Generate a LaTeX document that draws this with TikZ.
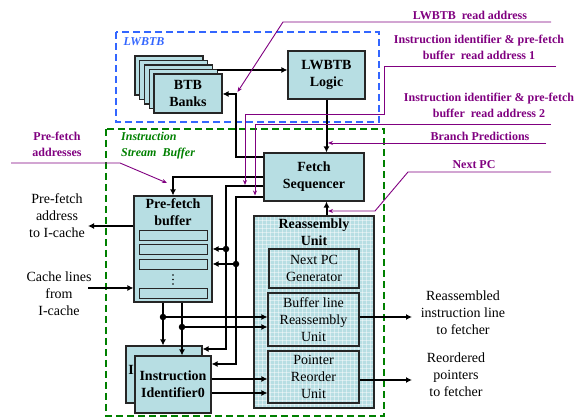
\documentclass[tikz,border=0pt]{standalone}
\usepackage{fontspec}
\setmainfont{Liberation Serif}
\usetikzlibrary{arrows.meta}

\definecolor{boxcyan}{RGB}{183,222,227}
\definecolor{tagpurple}{RGB}{128,0,128}
\definecolor{lwblue}{RGB}{51,102,255}
\definecolor{isbgreen}{RGB}{0,128,0}

\tikzset{
  blk/.style={draw=black!85, line width=1.1pt, fill=boxcyan, inner sep=0pt, align=center},
  sub/.style={draw=black!85, line width=1.1pt, inner sep=0pt, align=center},
  slot/.style={draw=black!85, line width=0.9pt, fill=boxcyan},
  busline/.style={line width=2pt},
  bus/.style={line width=2pt, -{Latex[length=6pt,width=6pt]}},
  tag/.style={draw=tagpurple, line width=0.9pt, -{Stealth[length=5pt,width=4pt]}},
  joint/.style={circle, fill=black, inner sep=0pt, minimum size=6.5pt},
  tagtext/.style={text=tagpurple, font=\fontsize{12}{16}\selectfont\bfseries, align=center},
  plain/.style={font=\fontsize{14}{17}\selectfont, align=center},
  boxfont/.style={font=\fontsize{14}{17}\selectfont\bfseries}
}

\begin{document}
\begin{tikzpicture}[x=1pt,y=-1pt]
\useasboundingbox (0,0) rectangle (579,419);

%Dashed frames
\draw[lwblue, line width=1.5pt, dash pattern={on 7pt off 4pt}] (116,32) rectangle (379,122);
\draw[isbgreen, line width=1.5pt, dash pattern={on 7pt off 4pt}] (106,129) rectangle (384,416);
\node[anchor=west, text=lwblue, font=\fontsize{12}{16}\selectfont\bfseries\itshape] (lwtitle) at (120,42) {LWBTB};
\node[anchor=north west, text=isbgreen, font=\fontsize{12}{16}\selectfont\bfseries\itshape, align=left, inner sep=0pt] (isbtitle) at (121,132) {Instruction\\Stream\ \ Buffer};

%BTB banks (stacked)
\foreach \k in {4,3,2,1}
  \draw[slot, line width=1.1pt] ({154-4.75*\k},{74-4.5*\k}) rectangle +(68,39);
\node[blk, boxfont, minimum width=68, minimum height=39] (btb) at (188,93.5) {BTB\\Banks};
\coordinate (btbtap) at (217,70);

%LWBTB logic and fetch sequencer
\node[blk, boxfont, minimum width=77, minimum height=48] (logic) at (326.5,75) {LWBTB\\Logic};
\node[blk, boxfont, minimum width=100, minimum height=48] (fetch) at (314,177) {Fetch\\Sequencer};

%Pre-fetch buffer
\node[blk, minimum width=78, minimum height=106] (pfb) at (173,249) {};
\node[boxfont, align=center, anchor=north, inner sep=0pt] (pfbtext) at (pfb.north) {\rule{0pt}{13pt}Pre-fetch\\buffer};
\foreach \y in {230,244.5,259,288}
  \draw[slot] (139,\y) rectangle +(68,10);
\foreach \y in {275,279.5,284}
  \fill (173,\y) circle (0.8);

%Instruction identifiers
\node[blk, minimum width=76, minimum height=57] (idback) at (164,374.5) {};
\node[boxfont] (idbtext) at (131,370) {I};
\node[blk, boxfont, minimum width=76, minimum height=57] (idfront) at (173,384.5) {Instruction\\Identifier0};

%Reassembly unit with its parts
\node[blk, minimum width=120, minimum height=192] (reasm) at (314,312) {};
\foreach \x in {258,262,...,370}
  \draw[white, line width=0.3pt, opacity=0.45] (\x,216.6) -- (\x,407.4);
\foreach \y in {220,224,...,404}
  \draw[white, line width=0.3pt, opacity=0.45] (254.6,\y) -- (373.4,\y);
\draw[black!85, line width=1.1pt] (reasm.south west) rectangle (reasm.north east);
\node[boxfont, align=center, anchor=north, inner sep=0pt] (reasmtext) at (reasm.north) {\rule{0pt}{13pt}Reassembly\\Unit};
\node[sub, plain, minimum width=90, minimum height=39] (npc) at (314,268.5) {Next PC\\Generator};
\node[sub, plain, minimum width=91, minimum height=53] (blr) at (313.5,319.5) {Buffer line\\Reassembly\\Unit};
\node[sub, plain, minimum width=91, minimum height=52] (pru) at (313.5,377) {Pointer\\Reorder\\Unit};

%Black buses
\draw[bus] (btbtap) -- (logic.west |- btbtap);
\draw[bus] (fetch.west |- 0,157) -| (236,94) -- (btb.east |- 0,94);
\draw[bus] (logic.south) -- (logic.south |- fetch.north);
\draw[bus] (fetch.west |- 0,177) -| (pfb.north);
\draw[bus] (fetch.west |- 0,186) -| (226,349) -- (idback.east |- 0,349);
\draw[bus] (fetch.west |- 0,197) -| (236,364) -- (idfront.east |- 0,364);
\node[joint] (ja) at (226,249) {};
\node[joint] (jb) at (236,264) {};
\draw[bus] (ja) -- (pfb.east |- ja);
\draw[bus] (jb) -- (pfb.east |- jb);
\draw[bus] (pfb.south -| 163,0) -- (idback.north -| 163,0);
\draw[bus] (pfb.south -| 182,0) -- (idfront.north -| 182,0);
\node[joint] (jc) at (163,317) {};
\node[joint] (jd) at (182,327) {};
\draw[bus] (jc) -- (blr.west |- jc);
\draw[bus] (jd) -- (blr.west |- jd);
\draw[bus] (idfront.east |- 0,379) -- (pru.west |- 0,379);
\draw[bus] (idfront.east |- 0,393) -- (pru.west |- 0,393);
\draw[bus] (reasm.north -| logic.south) -- (fetch.south -| logic.south);

%Inputs and outputs
\coordinate (pfout) at (88,226);
\coordinate (clin) at (88,288);
\coordinate (lineout) at (412,317);
\coordinate (ptrout) at (412,380);
\draw[bus] (pfb.west |- pfout) -- (pfout);
\draw[bus] (clin) -- (pfb.west |- clin);
\draw[bus] (blr.east |- lineout) -- (lineout);
\draw[bus] (pru.east |- ptrout) -- (ptrout);

% Text Node
\node[plain] (pfouttext) at (57,216) {Pre-fetch\\address\\to I-cache};
\node[plain] (clintext) at (59,294) {Cache lines\\from\\I-cache};
\node[plain] (lineouttext) at (463,313) {Reassembled\\instruction line\\to fetcher};
\node[plain] (ptrouttext) at (456,375) {Reordered\\pointers\\to fetcher};

%Purple tags
\draw[tag] (551,22) -- (283,22) -- (237.5,92);
\draw[tag] (556,66) -- (384,66) -- (384,114) -- (245,114) -- (245,185);
\draw[tag] (551,124) -- (255,124) -- (255,195.5);
\draw[tag] (546,143) -- (328,143);
\draw[tag] (551,172) -- (408,172) -- (375,211) -- (328,211);
\draw[tag] (11,163) -- (120,163) -- (167,183);

% Text Node
\node[tagtext] (t1) at (470,15) {LWBTB\ \ read address};
\node[tagtext] (t2) at (479,47) {Instruction identifier \& pre-fetch\\buffer\ \ read address 1};
\node[tagtext] (t3) at (489,105) {Instruction identifier \& pre-fetch\\buffer\ \ read address 2};
\node[tagtext] (t4) at (480,136) {Branch Predictions};
\node[tagtext] (t5) at (474,165) {Next PC};
\node[tagtext] (t6) at (57,144) {Pre-fetch\\addresses};

\end{tikzpicture}
\end{document}
